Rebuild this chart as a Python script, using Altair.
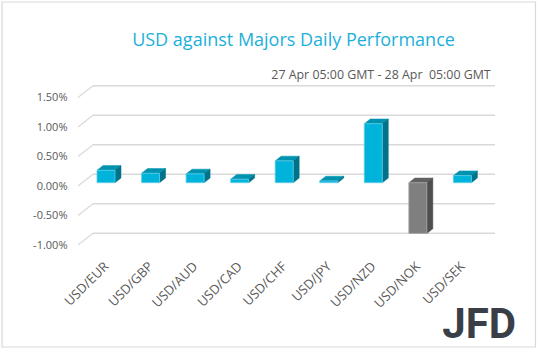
import altair as alt
import pandas as pd

# ---------------- data ----------------
categories = ["USD/EUR", "USD/GBP", "USD/AUD", "USD/CAD", "USD/CHF",
              "USD/JPY", "USD/NZD", "USD/NOK", "USD/SEK"]
changes = [0.21, 0.16, 0.15, 0.06, 0.37, 0.03, 1.00, -0.86, 0.12]   # in %
y_ticks = [-1.0, -0.5, 0.0, 0.5, 1.0, 1.5]

title_text = "USD against Majors Daily Performance"
subtitle_text = "27 Apr 05:00 GMT - 28 Apr\u00a0 05:00 GMT"
logo_text = "JFD"

# ---------------- geometry / style constants ----------------
PLOT_W, PLOT_H = 417, 200
PAD_L, PAD_T = 78, 60
PX_X = 44.55          # pixels per category step
PX_Y = 59.0           # pixels per 1 %
X_MIN = -28.0 / PX_X
X_MAX = X_MIN + PLOT_W / PX_X
Y_MAX = 126.0 / PX_Y
Y_MIN = Y_MAX - PLOT_H / PX_Y

GRID_DX = 15.0 / PX_X     # depth of back wall
GRID_DY = 11.7 / PX_Y
BAR_W = 18.0 / PX_X
BAR_DX = 6.0 / PX_X       # bar depth
BAR_DY = 4.7 / PX_Y
BAR_BASE = 3.3 / PX_Y     # bar plane sits a little behind the front

POS = {"front": "#00B3DB", "top": "#0093B0", "side": "#00738A", "edge": "#5CCDE8"}
NEG = {"front": "#7F7F7F", "top": "#616161", "side": "#4E4E4E", "edge": "#A6A6A6"}
GRID_COLOR = "#D9D9D9"
TEXT_COLOR = "#595959"
FONT = "Open Sans"

xs = alt.Scale(domain=[X_MIN, X_MAX], nice=False, zero=False)
ys = alt.Scale(domain=[Y_MIN, Y_MAX], nice=False, zero=False)

# ---------------- derived tables ----------------
grid = pd.DataFrame({"t": y_ticks})
grid["tb"] = grid["t"] + GRID_DY
grid["xf"] = X_MIN
grid["xb"] = X_MIN + GRID_DX
grid["xe"] = X_MAX

front_rows, face_rows = [], []
for i, (c, v) in enumerate(zip(categories, changes)):
    pal = NEG if v < 0 else POS
    x0, x1 = i - BAR_W / 2, i + BAR_W / 2
    top = max(BAR_BASE, BAR_BASE + v)
    bot = min(BAR_BASE, BAR_BASE + v)
    front_rows.append({"cat": c, "x0": x0, "x1": x1, "y0": bot, "y1": top,
                       "fill": pal["front"], "edge": pal["edge"]})
    fid = f"{c}-top"
    face_rows += [
        {"face": fid, "x": x0, "lo": top, "hi": top, "fill": pal["top"]},
        {"face": fid, "x": x0 + BAR_DX, "lo": top, "hi": top + BAR_DY, "fill": pal["top"]},
        {"face": fid, "x": x1, "lo": top, "hi": top + BAR_DY, "fill": pal["top"]},
        {"face": fid, "x": x1 + BAR_DX, "lo": top + BAR_DY, "hi": top + BAR_DY, "fill": pal["top"]},
    ]
    fid = f"{c}-side"
    face_rows += [
        {"face": fid, "x": x1, "lo": bot, "hi": top, "fill": pal["side"]},
        {"face": fid, "x": x1 + BAR_DX, "lo": bot + BAR_DY, "hi": top + BAR_DY, "fill": pal["side"]},
    ]
front = pd.DataFrame(front_rows)
faces = pd.DataFrame(face_rows)
one = pd.DataFrame({"a": [0]})

label_expr_x = "[" + ",".join(f"'{c}'" for c in categories) + "][datum.value]"
label_expr_y = "(datum.value < 0 ? '-' : '') + format(abs(datum.value), '.2f') + '%'"

x_axis = alt.Axis(values=list(range(len(categories))), labelExpr=label_expr_x,
                  labelAngle=-45, labelAlign="right", labelBaseline="middle",
                  labelPadding=4, ticks=False, tickSize=0, domain=False, grid=False,
                  labelFont=FONT, labelFontSize=13, labelColor=TEXT_COLOR,
                  labelFlush=False, labelOverlap=False, labelBound=False, title=None)
y_axis = alt.Axis(values=y_ticks, labelExpr=label_expr_y, ticks=False, tickSize=0,
                  domain=False, grid=False, labelPadding=11, labelFont=FONT,
                  labelFontSize=11, labelColor=TEXT_COLOR, labelFlush=False,
                  labelOverlap=False, title=None)

# ---------------- layers ----------------
border = alt.Chart(one).mark_rect(fillOpacity=0, stroke=GRID_COLOR, strokeWidth=1.2).encode(
    x=alt.value(2 - PAD_L), x2=alt.value(535.5 - PAD_L),
    y=alt.value(2 - PAD_T), y2=alt.value(347 - PAD_T))

grid_back = alt.Chart(grid).mark_rule(color=GRID_COLOR, strokeWidth=1.5).encode(
    x=alt.X("xb:Q", scale=xs, axis=x_axis), x2="xe:Q",
    y=alt.Y("tb:Q", scale=ys, axis=y_axis))

grid_slant = alt.Chart(grid).mark_rule(color=GRID_COLOR, strokeWidth=1.2).encode(
    x=alt.X("xf:Q", scale=xs, axis=x_axis), x2="xb:Q",
    y=alt.Y("t:Q", scale=ys, axis=y_axis), y2="tb:Q")

faces_layer = alt.Chart(faces).mark_area(strokeWidth=0.5, interpolate="linear").encode(
    x=alt.X("x:Q", scale=xs, axis=x_axis),
    y=alt.Y("lo:Q", scale=ys, axis=y_axis), y2="hi:Q",
    detail="face:N",
    color=alt.Color("fill:N", scale=None),
    stroke=alt.Stroke("fill:N", scale=None))

front_layer = alt.Chart(front).mark_rect(strokeWidth=0.8).encode(
    x=alt.X("x0:Q", scale=xs, axis=x_axis), x2="x1:Q",
    y=alt.Y("y0:Q", scale=ys, axis=y_axis), y2="y1:Q",
    color=alt.Color("fill:N", scale=None),
    stroke=alt.Stroke("edge:N", scale=None))

title_layer = alt.Chart(one).mark_text(font=FONT, fontSize=18, color="#1BB0DA",
                                       align="center", baseline="alphabetic").encode(
    x=alt.value(293.5 - PAD_L), y=alt.value(46 - PAD_T), text=alt.value(title_text))

subtitle_layer = alt.Chart(one).mark_text(font=FONT, fontSize=12.4, color=TEXT_COLOR,
                                          align="right", baseline="alphabetic").encode(
    x=alt.value(490.7 - PAD_L), y=alt.value(79 - PAD_T), text=alt.value(subtitle_text))

logo_layer = alt.Chart(one).mark_text(font="Roboto", fontSize=42,
                                      fontWeight="bold", color="#3A3F47", align="right",
                                      baseline="alphabetic").encode(
    x=alt.value(516 - PAD_L), y=alt.value(338 - PAD_T), text=alt.value(logo_text))

chart = alt.layer(
    border, grid_back, grid_slant, faces_layer, front_layer,
    title_layer, subtitle_layer, logo_layer
).properties(
    width=PLOT_W, height=PLOT_H,
    autosize=alt.AutoSizeParams(type="none"),
    padding={"left": PAD_L, "top": PAD_T, "right": 538 - PAD_L - PLOT_W,
             "bottom": 352 - PAD_T - PLOT_H},
    background="white",
).configure_view(stroke=None)

chart.save("out.html", embed_options={"renderer": "svg", "actions": False})
